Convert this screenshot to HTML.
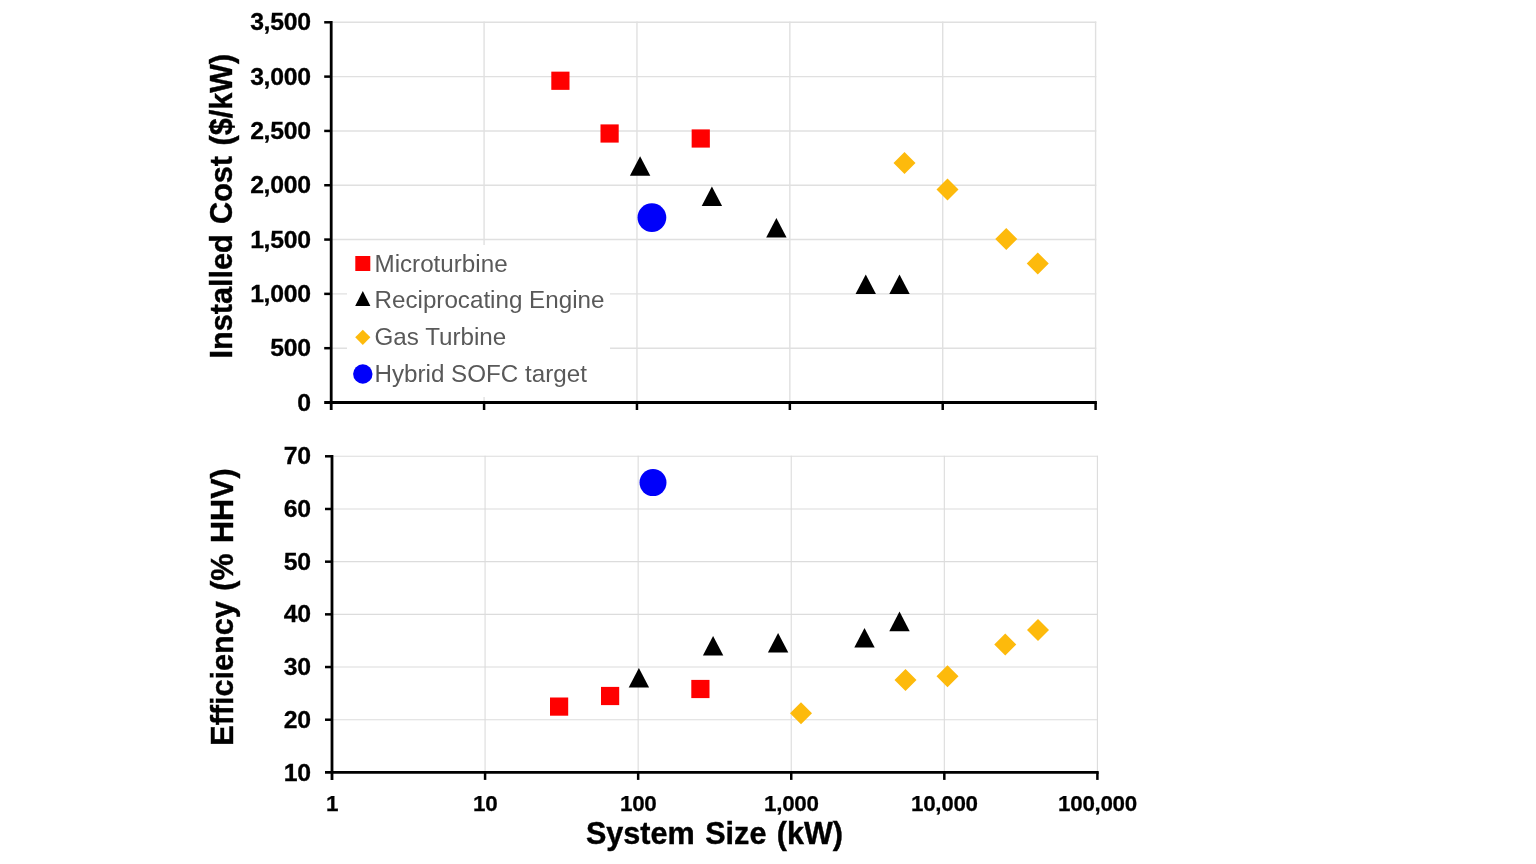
<!DOCTYPE html>
<html lang="en"><head><meta charset="utf-8"><title>Installed Cost and Efficiency vs System Size</title>
<style>html,body{margin:0;padding:0;background:#fff;}body{width:1536px;height:864px;overflow:hidden;}svg{display:block;}text{font-family:"Liberation Sans",Arial,Helvetica,sans-serif;font-variant-ligatures:none;font-kerning:normal;}.yt{font-weight:bold;font-size:24.8px;letter-spacing:-0.3px;fill:#000;stroke:#000;stroke-width:0.3px;text-anchor:end;}.xt{font-weight:bold;font-size:22.4px;letter-spacing:-0.3px;fill:#000;stroke:#000;stroke-width:0.25px;text-anchor:middle;}.ttl{font-weight:bold;font-size:30.6px;word-spacing:1.9px;fill:#000;stroke:#000;stroke-width:0.4px;text-anchor:middle;}.lg{font-size:24.2px;fill:#595959;}</style></head><body>
<svg width="1536" height="864" viewBox="0 0 1536 864">
<rect width="1536" height="864" fill="#fff"/>
<g stroke="#e0e0e0" stroke-width="1.4" fill="none">
<line x1="331.2" y1="22.3" x2="1096.3" y2="22.3"/>
<line x1="331.2" y1="76.61" x2="1096.3" y2="76.61"/>
<line x1="331.2" y1="130.93" x2="1096.3" y2="130.93"/>
<line x1="331.2" y1="185.24" x2="1096.3" y2="185.24"/>
<line x1="331.2" y1="239.56" x2="1096.3" y2="239.56"/>
<line x1="331.2" y1="293.87" x2="1096.3" y2="293.87"/>
<line x1="331.2" y1="348.19" x2="1096.3" y2="348.19"/>
<line x1="484.08" y1="21.6" x2="484.08" y2="402.5"/>
<line x1="636.96" y1="21.6" x2="636.96" y2="402.5"/>
<line x1="789.84" y1="21.6" x2="789.84" y2="402.5"/>
<line x1="942.72" y1="21.6" x2="942.72" y2="402.5"/>
<line x1="1095.6" y1="21.6" x2="1095.6" y2="402.5"/>
</g>
<rect x="347" y="245" width="263" height="152" fill="#fff"/>
<g stroke="#000" fill="none" stroke-linecap="butt">
<line x1="331.2" y1="20.9" x2="331.2" y2="410" stroke-width="2.8"/>
<line x1="324.2" y1="402.5" x2="1096.9" y2="402.5" stroke-width="2.8"/>
<line x1="324.2" y1="22.3" x2="331.2" y2="22.3" stroke-width="2.5"/>
<line x1="324.2" y1="76.61" x2="331.2" y2="76.61" stroke-width="2.5"/>
<line x1="324.2" y1="130.93" x2="331.2" y2="130.93" stroke-width="2.5"/>
<line x1="324.2" y1="185.24" x2="331.2" y2="185.24" stroke-width="2.5"/>
<line x1="324.2" y1="239.56" x2="331.2" y2="239.56" stroke-width="2.5"/>
<line x1="324.2" y1="293.87" x2="331.2" y2="293.87" stroke-width="2.5"/>
<line x1="324.2" y1="348.19" x2="331.2" y2="348.19" stroke-width="2.5"/>
<line x1="484.08" y1="402.5" x2="484.08" y2="410" stroke-width="2.5"/>
<line x1="636.96" y1="402.5" x2="636.96" y2="410" stroke-width="2.5"/>
<line x1="789.84" y1="402.5" x2="789.84" y2="410" stroke-width="2.5"/>
<line x1="942.72" y1="402.5" x2="942.72" y2="410" stroke-width="2.5"/>
<line x1="1095.6" y1="402.5" x2="1095.6" y2="410" stroke-width="2.5"/>
</g>
<text class="yt" x="310.7" y="30.4">3,500</text>
<text class="yt" x="310.7" y="84.71">3,000</text>
<text class="yt" x="310.7" y="139.03">2,500</text>
<text class="yt" x="310.7" y="193.34">2,000</text>
<text class="yt" x="310.7" y="247.66">1,500</text>
<text class="yt" x="310.7" y="301.97">1,000</text>
<text class="yt" x="310.7" y="356.29">500</text>
<text class="yt" x="310.7" y="410.6">0</text>
<g stroke="#dcdcdc" stroke-width="1.1" fill="none">
<line x1="332" y1="456.3" x2="1097.9" y2="456.3"/>
<line x1="332" y1="508.98" x2="1097.9" y2="508.98"/>
<line x1="332" y1="561.67" x2="1097.9" y2="561.67"/>
<line x1="332" y1="614.35" x2="1097.9" y2="614.35"/>
<line x1="332" y1="667.03" x2="1097.9" y2="667.03"/>
<line x1="332" y1="719.72" x2="1097.9" y2="719.72"/>
<line x1="485.08" y1="455.8" x2="485.08" y2="772.4"/>
<line x1="638.16" y1="455.8" x2="638.16" y2="772.4"/>
<line x1="791.24" y1="455.8" x2="791.24" y2="772.4"/>
<line x1="944.32" y1="455.8" x2="944.32" y2="772.4"/>
<line x1="1097.4" y1="455.8" x2="1097.4" y2="772.4"/>
</g>
<g stroke="#000" fill="none" stroke-linecap="butt">
<line x1="332" y1="454.9" x2="332" y2="779.9" stroke-width="2.8"/>
<line x1="325" y1="772.4" x2="1098.7" y2="772.4" stroke-width="2.8"/>
<line x1="325" y1="456.3" x2="332" y2="456.3" stroke-width="2.5"/>
<line x1="325" y1="508.98" x2="332" y2="508.98" stroke-width="2.5"/>
<line x1="325" y1="561.67" x2="332" y2="561.67" stroke-width="2.5"/>
<line x1="325" y1="614.35" x2="332" y2="614.35" stroke-width="2.5"/>
<line x1="325" y1="667.03" x2="332" y2="667.03" stroke-width="2.5"/>
<line x1="325" y1="719.72" x2="332" y2="719.72" stroke-width="2.5"/>
<line x1="485.08" y1="772.4" x2="485.08" y2="779.9" stroke-width="2.5"/>
<line x1="638.16" y1="772.4" x2="638.16" y2="779.9" stroke-width="2.5"/>
<line x1="791.24" y1="772.4" x2="791.24" y2="779.9" stroke-width="2.5"/>
<line x1="944.32" y1="772.4" x2="944.32" y2="779.9" stroke-width="2.5"/>
<line x1="1097.4" y1="772.4" x2="1097.4" y2="779.9" stroke-width="2.5"/>
</g>
<text class="yt" x="310.7" y="464.4">70</text>
<text class="yt" x="310.7" y="517.08">60</text>
<text class="yt" x="310.7" y="569.77">50</text>
<text class="yt" x="310.7" y="622.45">40</text>
<text class="yt" x="310.7" y="675.13">30</text>
<text class="yt" x="310.7" y="727.82">20</text>
<text class="yt" x="310.7" y="780.5">10</text>
<text class="xt" x="332.1" y="811.3">1</text>
<text class="xt" x="485.18" y="811.3">10</text>
<text class="xt" x="638.26" y="811.3">100</text>
<text class="xt" x="791.34" y="811.3">1,000</text>
<text class="xt" x="944.42" y="811.3">10,000</text>
<text class="xt" x="1097.5" y="811.3">100,000</text>
<text class="ttl" transform="translate(231.7 206.1) rotate(-90)">Installed Cost ($/kW)</text>
<text class="ttl" transform="translate(232.7 607) rotate(-90)">Efficiency (% HHV)</text>
<text class="ttl" x="714.5" y="843.5">System Size (kW)</text>
<rect x="551.3" y="71.65" width="18.2" height="18.2" fill="#ff0000"/>
<rect x="600.5" y="124.4" width="18.2" height="18.2" fill="#ff0000"/>
<rect x="691.65" y="129.4" width="18.2" height="18.2" fill="#ff0000"/>
<path d="M640.1 156.25 L650.3 175.85 L629.9 175.85 Z" fill="#000"/>
<path d="M711.9 186.5 L722.1 206.1 L701.7 206.1 Z" fill="#000"/>
<path d="M776.4 218 L786.6 237.6 L766.2 237.6 Z" fill="#000"/>
<path d="M865.75 274.4 L875.95 294 L855.55 294 Z" fill="#000"/>
<path d="M899.5 274.4 L909.7 294 L889.3 294 Z" fill="#000"/>
<path d="M904.5 152 L915.5 163 L904.5 174 L893.5 163 Z" fill="#fdba0c"/>
<path d="M947.5 178.5 L958.5 189.5 L947.5 200.5 L936.5 189.5 Z" fill="#fdba0c"/>
<path d="M1006.25 228 L1017.25 239 L1006.25 250 L995.25 239 Z" fill="#fdba0c"/>
<path d="M1037.75 252.5 L1048.75 263.5 L1037.75 274.5 L1026.75 263.5 Z" fill="#fdba0c"/>
<circle cx="651.9" cy="217.6" r="14.4" fill="#0000fa"/>
<rect x="550" y="697.5" width="18.2" height="18.2" fill="#ff0000"/>
<rect x="601" y="686.9" width="18.2" height="18.2" fill="#ff0000"/>
<rect x="691.3" y="679.9" width="18.2" height="18.2" fill="#ff0000"/>
<path d="M638.9 668 L649.1 687.6 L628.7 687.6 Z" fill="#000"/>
<path d="M713.1 636 L723.3 655.6 L702.9 655.6 Z" fill="#000"/>
<path d="M778.1 633 L788.3 652.6 L767.9 652.6 Z" fill="#000"/>
<path d="M864.5 628 L874.7 647.6 L854.3 647.6 Z" fill="#000"/>
<path d="M899.5 611.6 L909.7 631.2 L889.3 631.2 Z" fill="#000"/>
<path d="M801 702.25 L812 713.25 L801 724.25 L790 713.25 Z" fill="#fdba0c"/>
<path d="M905.5 669 L916.5 680 L905.5 691 L894.5 680 Z" fill="#fdba0c"/>
<path d="M947.5 665.25 L958.5 676.25 L947.5 687.25 L936.5 676.25 Z" fill="#fdba0c"/>
<path d="M1005.25 633.5 L1016.25 644.5 L1005.25 655.5 L994.25 644.5 Z" fill="#fdba0c"/>
<path d="M1038 619 L1049 630 L1038 641 L1027 630 Z" fill="#fdba0c"/>
<circle cx="653" cy="482.6" r="13.5" fill="#0000fa"/>
<rect x="355.3" y="256" width="15" height="15" fill="#ff0000"/>
<path d="M362.8 291 L370.4 306 L355.2 306 Z" fill="#000"/>
<path d="M362.8 329.7 L370.4 337.3 L362.8 344.9 L355.2 337.3 Z" fill="#fdba0c"/>
<circle cx="362.8" cy="374" r="9.7" fill="#0000fa"/>
<text class="lg" x="374.5" y="271.5">Microturbine</text>
<text class="lg" x="374.5" y="307.8">Reciprocating Engine</text>
<text class="lg" x="374.5" y="345.4">Gas Turbine</text>
<text class="lg" x="374.5" y="381.6">Hybrid SOFC target</text>
</svg></body></html>
